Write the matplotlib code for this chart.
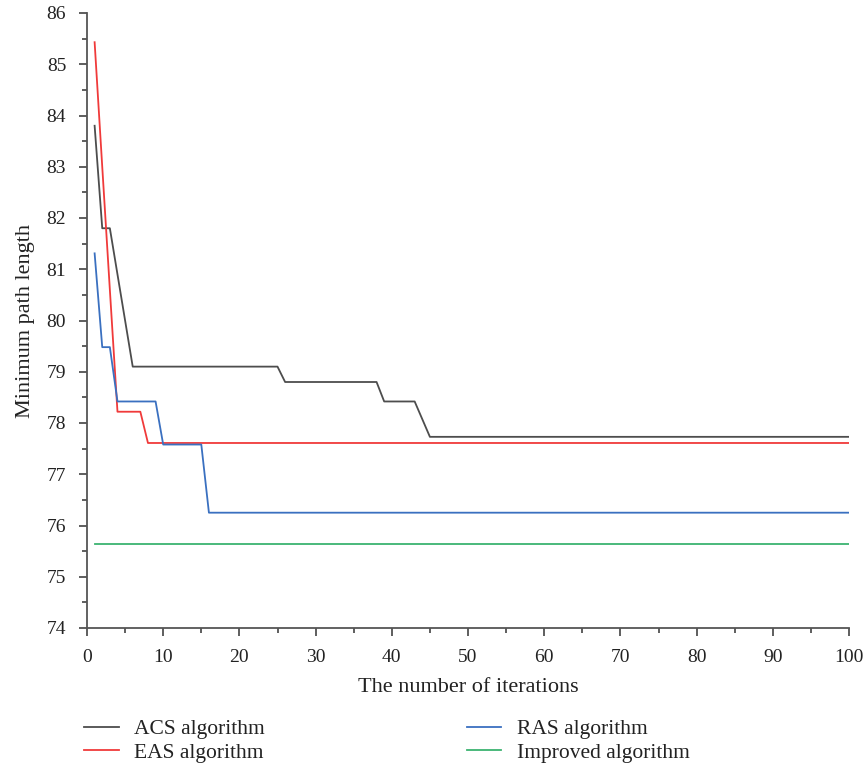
import matplotlib
matplotlib.use("Agg")
import matplotlib.pyplot as plt
from matplotlib.ticker import MultipleLocator

# Vertex data (iteration, minimum path length)
acs_x = [1, 2, 3, 6, 25, 26, 38, 39, 43, 45, 100]
acs_y = [83.8, 81.8, 81.8, 79.1, 79.1, 78.8, 78.8, 78.42, 78.42, 77.73, 77.73]

eas_x = [1, 2, 3, 4, 7, 8, 100]
eas_y = [85.43, 83.0, 80.6, 78.22, 78.22, 77.61, 77.61]

ras_x = [1, 2, 3, 4, 9, 10, 15, 16, 100]
ras_y = [81.31, 79.48, 79.48, 78.42, 78.42, 77.58, 77.58, 76.25, 76.25]

imp_x = [1, 100]
imp_y = [75.64, 75.64]

labels = ["ACS algorithm", "EAS algorithm", "RAS algorithm", "Improved algorithm"]
colors = ["#4d4d4d", "#f03a3a", "#3a70c0", "#3cb371"]

plt.rcParams['font.family'] = ['Liberation Serif', 'DejaVu Serif']

fig = plt.figure(figsize=(8.67, 7.67), dpi=100)
ax = fig.add_axes([87/867, 1 - 628/767, (849 - 87)/867, (628 - 13)/767])

series = [(acs_x, acs_y), (eas_x, eas_y), (ras_x, ras_y), (imp_x, imp_y)]
for (xs, ys), lab, c in zip(series, labels, colors):
    ax.plot(xs, ys, color=c, lw=1.3, label=lab)

ax.set_xlim(0, 100)
ax.set_ylim(74, 86)
ax.xaxis.set_major_locator(MultipleLocator(10))
ax.xaxis.set_minor_locator(MultipleLocator(5))
ax.yaxis.set_major_locator(MultipleLocator(1))
ax.yaxis.set_minor_locator(MultipleLocator(0.5))

for s in ["top", "right"]:
    ax.spines[s].set_visible(False)
for s in ["left", "bottom"]:
    ax.spines[s].set_color("#555555")
    ax.spines[s].set_linewidth(1.3)

ax.tick_params(which="major", direction="out", length=6, width=1.1, color="#333333",
               labelsize=14, pad=9, labelcolor="#222222")
ax.tick_params(which="minor", direction="out", length=3.8, width=1.1, color="#333333")

ax.set_xlabel("The number of iterations", fontsize=16, color="#222222", labelpad=9)
ax.set_ylabel("Minimum path length", fontsize=16, color="#222222", labelpad=8)

leg = fig.legend(loc="upper left", bbox_to_anchor=(65/867, 1 - 700/767), ncol=2,
                 frameon=False, fontsize=15.5, handlelength=1.6, handletextpad=0.7,
                 columnspacing=9.4, labelspacing=0.14)
for t in leg.get_texts():
    t.set_color("#222222")

fig.savefig("out.png", dpi=100)
